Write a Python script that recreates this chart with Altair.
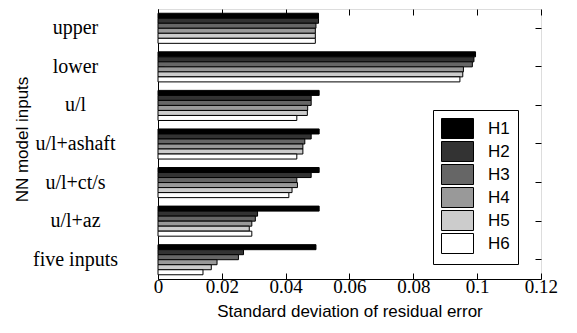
import altair as alt
import pandas as pd

categories = ["upper", "lower", "u/l", "u/l+ashaft", "u/l+ct/s", "u/l+az", "five inputs"]
series = ["H1", "H2", "H3", "H4", "H5", "H6"]
H1 = [0.0503, 0.0995, 0.0505, 0.0505, 0.0505, 0.0505, 0.0495]
H2 = [0.0503, 0.0990, 0.0480, 0.0480, 0.0480, 0.0312, 0.0268]
H3 = [0.0495, 0.0985, 0.0480, 0.0460, 0.0435, 0.0305, 0.0252]
H4 = [0.0493, 0.0957, 0.0469, 0.0454, 0.0437, 0.0294, 0.0185]
H5 = [0.0493, 0.0955, 0.0468, 0.0454, 0.0420, 0.0286, 0.0167]
H6 = [0.0493, 0.0946, 0.0435, 0.0435, 0.0410, 0.0294, 0.0141]
x_ticks = [0, 0.02, 0.04, 0.06, 0.08, 0.1, 0.12]
colors = ["#000000", "#333333", "#666666", "#999999", "#cccccc", "#ffffff"]

rows = []
for s, vals in zip(series, [H1, H2, H3, H4, H5, H6]):
    for c, v in zip(categories, vals):
        rows.append({"cat": c, "series": s, "value": v})
df = pd.DataFrame(rows)

SERIF = "Liberation Serif"
SANS = "Liberation Sans"

xscale = alt.Scale(domain=[0, 0.12001], nice=False, zero=True)
yscale = alt.Scale(paddingInner=0.22, paddingOuter=0.11)

bars = alt.Chart(df).mark_bar(stroke="black", strokeWidth=1).encode(
    x=alt.X("value:Q", scale=xscale,
            axis=alt.Axis(title="Standard deviation of residual error", values=x_ticks,
                          format="~g", grid=False, tickSize={"expr": "-6"},
                          labelPadding=4, labelFlush=False, labelOverlap=False,
                          labelFont=SERIF, labelFontSize=19,
                          labelColor="black", tickColor="black", domainColor="black",
                          titleFont=SANS, titleFontSize=17, titleFontWeight="normal",
                          titleColor="black", titleBaseline="middle", titleY=32)),
    y=alt.Y("cat:N", sort=categories, scale=yscale,
            axis=alt.Axis(title="NN model inputs", grid=False, tickSize={"expr": "-6"},
                          labelPadding=89, labelAlign="center", labelFont=SERIF,
                          labelFontSize=20, labelColor="black", tickColor="black",
                          domainColor="black", titleFont=SANS, titleFontSize=17,
                          titleFontWeight="normal", titleColor="black",
                          titleBaseline="middle", titleX=-136, titleY=130, titleAngle=-90)),
    yOffset=alt.YOffset("series:N", sort=series,
                        scale=alt.Scale(paddingInner=0, paddingOuter=0)),
    color=alt.Color("series:N", sort=series,
                    scale=alt.Scale(domain=series, range=colors),
                    legend=alt.Legend(title=None, orient="none", legendX=275, legendY=101,
                                      padding=8, strokeColor="black", fillColor="white",
                                      symbolType="M-1.6,-1L1.6,-1L1.6,1L-1.6,1Z",
                                      symbolSize=400, symbolStrokeColor="black",
                                      symbolStrokeWidth=1, symbolOpacity=1, rowPadding=-5,
                                      symbolOffset=6, labelOffset=20, labelFont=SANS,
                                      labelFontSize=17, labelColor="black")),
)

frame = alt.Chart(df).mark_bar(opacity=0).encode(
    x=alt.X("value:Q", scale=xscale,
            axis=alt.Axis(orient="top", title=None, values=x_ticks, labels=False,
                          grid=False, domain=False, tickSize={"expr": "-6"},
                          tickColor="black")),
    y=alt.Y("cat:N", sort=categories, scale=yscale,
            axis=alt.Axis(orient="right", title=None, labels=False, grid=False,
                          domain=False, tickSize={"expr": "-6"}, tickColor="black")),
)

chart = alt.layer(bars, frame).resolve_axis(x="independent", y="independent").properties(
    width=383, height=270,
    autosize=alt.AutoSizeParams(type="none"),
    padding={"left": 158, "top": 9, "right": 36, "bottom": 54},
).configure_view(stroke="black", strokeWidth=1).configure(background="white")

chart.save("out.html", embed_options={"renderer": "svg", "actions": False})
